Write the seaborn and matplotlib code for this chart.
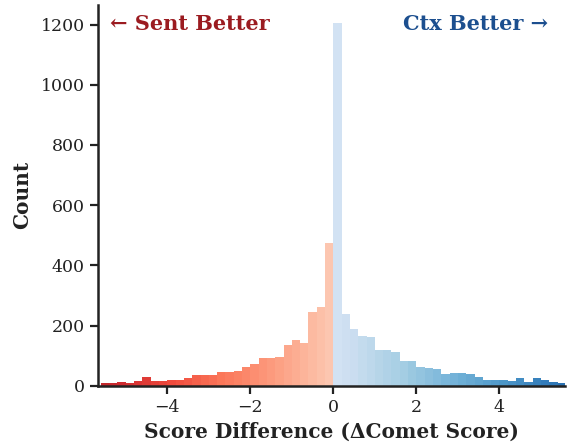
"""
Histogram of sentence- vs context-level Comet score differences
"""

import numpy as np
import pandas as pd
import matplotlib
matplotlib.use("Agg")
import matplotlib.pyplot as plt
import seaborn as sns

# ============ DATA ============
BIN_WIDTH = 0.2
NEG_COUNTS = [10, 10, 13, 10, 17, 30, 17, 17, 20, 20, 27, 37, 37, 37,
              47, 47, 50, 64, 74, 91, 91, 97, 134, 151, 142, 245, 263, 476]
POS_COUNTS = [1205, 238, 188, 164, 161, 118, 118, 114, 84, 81, 64, 60, 57, 40,
              44, 44, 40, 30, 20, 20, 20, 17, 27, 13, 27, 20, 13, 10]
LEFT_LABEL = "\u2190 Sent Better"
RIGHT_LABEL = "Ctx Better \u2192"
X_LABEL = "Score Difference (\u0394Comet Score)"
Y_LABEL = "Count"

# ============ BUILD TABLE ============
n_neg = len(NEG_COUNTS)
n_pos = len(POS_COUNTS)
edges = [round(k * BIN_WIDTH, 2) for k in range(-n_neg, n_pos + 1)]
centers = [(a + b) / 2 for a, b in zip(edges[:-1], edges[1:])]
df = pd.DataFrame({"diff": centers, "count": NEG_COUNTS + POS_COUNTS})

sns.set_theme(style="ticks")
plt.rcParams["font.family"] = ["DejaVu Serif"]

fig, ax = plt.subplots(figsize=(5.68, 4.44), dpi=100)
fig.subplots_adjust(left=0.1725, right=0.994, bottom=0.131, top=0.989)

sns.histplot(data=df, x="diff", weights="count", bins=edges, ax=ax,
             edgecolor="none", linewidth=0)

# colour every bar by its sign and distance from zero
reds = plt.get_cmap("Reds")
blues = plt.get_cmap("Blues")
max_abs = max(abs(edges[0]), abs(edges[-1]))
for patch in ax.patches:
    mid = patch.get_x() + patch.get_width() / 2
    frac = abs(mid) / max_abs
    if mid < 0:
        patch.set_facecolor(reds(0.22 + 0.58 * frac))
    else:
        patch.set_facecolor(blues(0.2 + 0.6 * frac))
    patch.set_alpha(0.92)

ax.set_xlim(-5.67, 5.57)
ax.set_xticks([-4, -2, 0, 2, 4])
ax.set_xticklabels(["\u22124", "\u22122", "0", "2", "4"])
ax.set_yticks([0, 200, 400, 600, 800, 1000, 1200])

ax.tick_params(axis="both", labelsize=12.5, length=6, width=1.6, colors="#222222")
for spine in ["left", "bottom"]:
    ax.spines[spine].set_linewidth(1.8)
    ax.spines[spine].set_color("#222222")
sns.despine(ax=ax)

ax.set_xlabel(X_LABEL, fontsize=14.5, fontweight="bold", color="#222222", labelpad=4)
ax.set_ylabel(Y_LABEL, fontsize=14.5, fontweight="bold", color="#222222", labelpad=6)

ax.text(0.025, 0.975, LEFT_LABEL, transform=ax.transAxes, ha="left", va="top",
        fontsize=15, fontweight="bold", color="#9b1b20")
ax.text(0.965, 0.975, RIGHT_LABEL, transform=ax.transAxes, ha="right", va="top",
        fontsize=15, fontweight="bold", color="#1c4f8f")

plt.savefig("out.png", dpi=100)
